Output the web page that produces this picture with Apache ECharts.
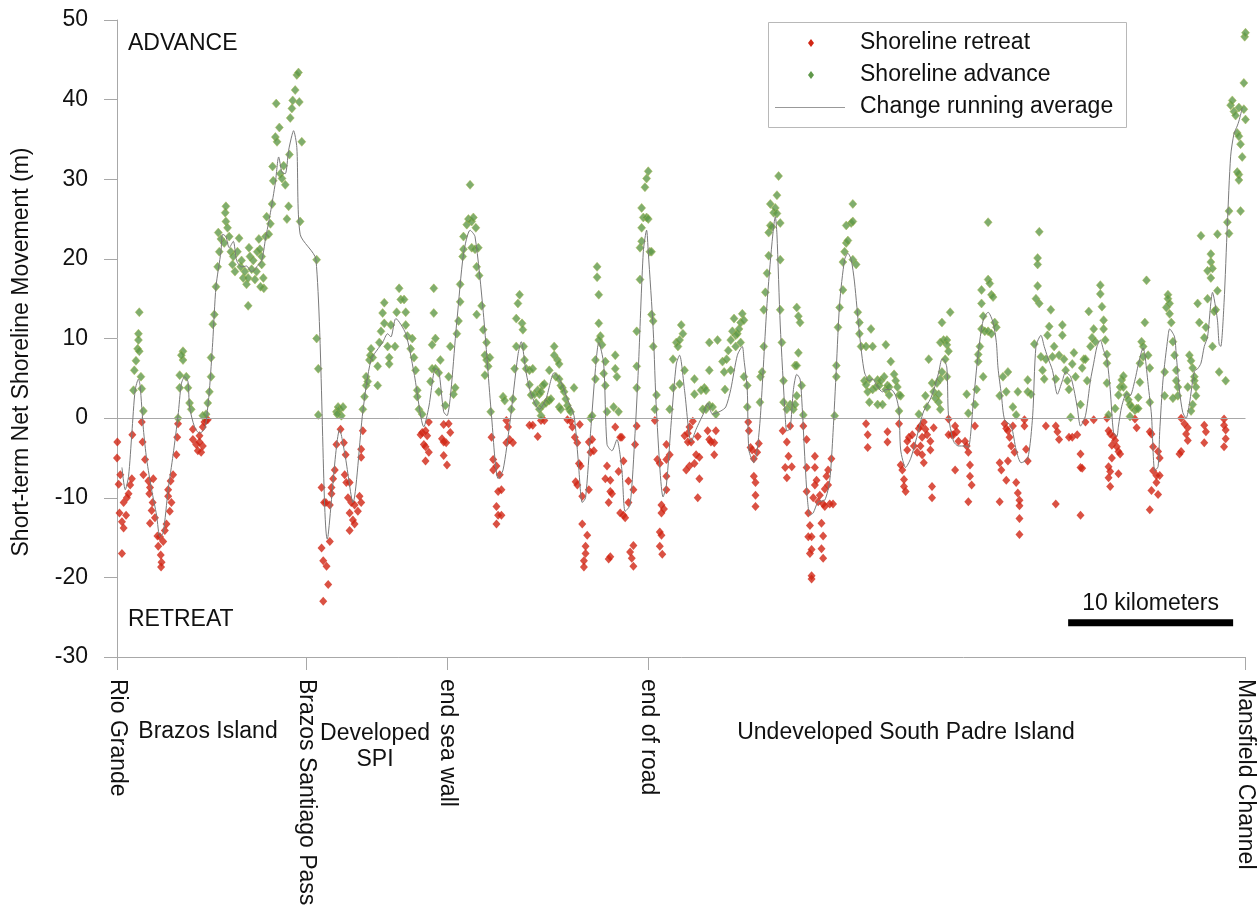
<!DOCTYPE html>
<html>
<head>
<meta charset="utf-8">
<script src="https://cdn.jsdelivr.net/npm/echarts@6/dist/echarts.min.js"></script>
<style>
html,body{margin:0;padding:0;background:#fff;}
#chart{width:1257px;height:909px;}
</style>
</head>
<body>
<div id="chart"></div>
<script>
// ---- DATA (x = distance along shore in km from Rio Grande, y = net shoreline movement in m) ----
const landmarkKm = [0, 11.45, 20.0, 32.2, 68.4];
const landmarkNames = ["Rio Grande", "Brazos Santiago Pass", "end sea wall", "end of road", "Mansfield Channel"];
const yTicks = [-30, -20, -10, 0, 10, 20, 30, 40, 50];

const retreat = [
[0.02,-3.0],[0,-5.0],[0.2,-7.1],[0.1,-8.3],[0.4,-10.6],[0.15,-11.9],[0.3,-13.0],[0.4,-13.8],[0.3,-17.0],[0.55,-12.2],[0.7,-9.5],[0.8,-8.4],[0.9,-7.6],[0.93,-2.1],[0.6,-10.0],[1.5,-0.5],[1.55,-3.0],[1.7,-5.2],[1.6,-7.1],[1.9,-7.9],[2.0,-8.7],[2.2,-7.6],[1.96,-9.5],[2.16,-10.6],[2.1,-11.6],[2.3,-12.5],[2.0,-13.2],[2.45,-14.8],[2.6,-14.9],[2.5,-16.1],[2.65,-17.2],[2.7,-18.1],[2.67,-18.7],[2.9,-14.1],[3.0,-13.3],[3.2,-11.7],[3.1,-9.0],[3.25,-7.9],[3.1,-9.8],[3.4,-7.1],[3.6,-4.6],[3.65,-2.4],[3.7,-0.7],[3.3,-10.6],[2.8,-15.5],[4.6,-1.4],[4.6,-2.7],[4.8,-3.3],[4.9,-4.1],[5.0,-3.0],[5.1,-4.3],[5.2,-3.5],[5.3,-0.5],[5.4,-0.3],[5.5,-0.2],[5.0,-2.2],[5.2,-1.1],
[12.4,-8.7],[12.55,-10.6],[12.66,-10.6],[12.9,-10.9],[13.0,-9.5],[13.0,-8.7],[13.1,-7.6],[13.2,-6.5],[13.3,-3.3],[13.55,-1.4],[13.75,-3.1],[13.86,-4.6],[13.8,-7.1],[13.9,-8.1],[14.1,-8.1],[14.0,-10.0],[14.2,-10.6],[14.4,-10.9],[14.1,-11.9],[14.3,-12.8],[14.4,-13.3],[14.1,-14.1],[14.6,-11.7],[14.7,-9.8],[14.8,-10.6],[14.8,-4.9],[14.8,-3.9],[14.9,-1.6],[12.4,-16.3],[12.5,-17.9],[12.7,-18.6],[12.8,-20.9],[12.5,-23.0],[12.9,-15.5],[18.4,-2.1],[18.5,-1.8],[18.7,-1.6],[18.8,-2.2],[18.9,-0.5],[18.6,-3.3],[18.7,-3.6],[18.9,-4.3],[18.7,-5.4],[19.8,-0.8],[20.1,-0.7],[20.2,-1.8],[19.7,-2.6],[19.8,-3.0],[19.95,-3.1],[19.8,-4.7],[20.0,-5.9],[22.7,-2.4],[22.8,-5.2],[22.8,-6.5],[23.0,-6.0],[23.2,-7.1],[23.1,-9.2],[23.3,-9.0],[23.0,-11.1],[23.1,-12.2],[23.3,-12.2],[23.0,-13.3],[23.6,-0.3],[23.7,-1.1],[23.6,-3.1],[23.8,-2.7],[24.0,-3.1],
[25.0,-0.9],[25.2,-0.9],[25.5,-2.3],[25.7,-0.3],[25.9,-0.3],[27.3,-0.2],[27.5,-0.4],[27.6,-1.1],[27.75,-2.4],[27.9,-3.1],[28.05,-0.8],[28.0,-5.7],[28.1,-6.0],[27.8,-8.0],[27.9,-8.4],[28.2,-9.8],[28.2,-13.3],[28.5,-14.7],[28.4,-16.1],[28.4,-17.0],[28.3,-17.9],[28.3,-18.7],[28.6,-9.0],[28.6,-3.0],[28.8,-2.7],[28.7,-4.3],[28.9,-4.1],[29.7,-6.0],[29.6,-7.6],[29.9,-7.8],[29.9,-9.2],[30.0,-9.5],[29.8,-10.6],[29.9,-17.4],[29.8,-17.7],[30.2,-1.1],[30.5,-2.4],[30.6,-2.4],[30.4,-6.7],[30.7,-5.4],[31.0,-7.9],[30.5,-11.9],[30.7,-12.2],[30.8,-12.5],[31.0,-10.6],[31.3,-16.0],[31.1,-16.8],[31.2,-17.6],[31.3,-18.6],[31.3,-9.0],[31.4,-3.3],[31.5,-1.0],[32.6,-0.3],[32.75,-5.2],[32.9,-5.7],[33.3,-5.2],[33.5,-4.6],[33.3,-3.3],[33.3,-7.3],[33.3,-9.0],[33.0,-10.9],[33.15,-11.4],[33.0,-11.9],[32.9,-14.3],[33.0,-14.7],[32.9,-16.1],[33.05,-17.1],[34.4,-2.2],[34.6,-1.9],[34.7,-1.1],[34.9,-0.4],[34.8,-3.0],[34.6,-3.0],[34.5,-6.5],[34.7,-6.0],[35.1,-4.6],[35.3,-4.9],[35.0,-5.7],[35.3,-7.6],[35.2,-10.0],[35.2,-2.3],[35.8,-1.6],[35.9,-2.7],[36.0,-3.0],[36.2,-3.1],[36.3,-1.6],[36.2,-4.6],
[38.26,-0.5],[38.3,-1.6],[38.4,-3.7],[38.5,-4.0],[38.6,-5.1],[38.8,-4.3],[38.9,-3.2],[38.6,-7.3],[38.7,-8.1],[38.7,-9.7],[38.7,-11.1],
[40.35,-1.6],[40.6,-3.0],[40.7,-4.8],[40.5,-6.2],[40.6,-7.5],[40.9,-6.1],[40.8,-1.0],[41.6,-1.0],[41.8,-2.7],[41.8,-6.2],[41.8,-9.2],[41.9,-11.9],[42.0,-13.5],[41.9,-14.9],[42.1,-14.9],[42.1,-16.5],[42.0,-17.0],[42.1,-19.8],[42.1,-20.2],[42.3,-4.8],[42.3,-6.2],[42.4,-7.8],[42.3,-8.4],[42.2,-10.0],[42.5,-10.5],[42.6,-9.7],[42.8,-10.8],[42.9,-11.1],[42.9,-8.9],[43.0,-7.3],[43.1,-6.5],[43.2,-10.8],[43.3,-5.1],[43.1,-8.4],[42.7,-13.2],[42.8,-14.8],[42.7,-16.4],[42.8,-17.6],[43.4,-10.8],[45.4,-0.7],[45.5,-2.1],[45.5,-3.7],[46.7,-1.7],[46.7,-3.0],[47.4,-0.7],[47.5,-5.9],[47.6,-6.5],[47.7,-7.7],[47.7,-8.6],[47.8,-9.2],[47.9,-2.9],[48.0,-2.4],[48.2,-2.1],[48.3,-3.5],[47.9,-4.0],[48.5,-4.3],[48.6,-1.3],
[48.7,-1.0],[48.9,-0.5],[49.0,-1.4],[49.1,-2.1],[48.8,-2.4],[48.7,-3.5],[48.8,-4.6],[48.9,-5.6],[49.4,-8.6],[49.4,-10.0],[49.3,-4.0],[49.5,-1.2],[49.3,-2.9],[50.4,-0.1],[50.4,-2.1],[50.6,-2.1],[50.7,-2.1],[50.8,-1.0],[50.9,-1.7],[51.0,-2.9],[50.8,-6.5],[51.4,-2.9],[51.5,-3.5],[51.6,-4.3],[51.7,-5.9],[51.7,-7.3],[51.8,-8.4],[51.6,-10.5],[52.0,-1.0],[53.5,-5.6],[53.6,-6.5],[53.5,-10.5],[54.0,-5.4],[53.9,-7.8],[53.8,-0.7],[53.9,-1.3],[54.0,-1.6],[54.1,-2.4],[54.2,-3.5],[54.3,-1.0],[54.4,-4.3],[54.5,-8.1],[54.6,-9.4],[54.7,-10.3],[54.7,-11.0],[54.7,-12.6],[54.7,-14.6],[55.0,-0.2],[55.0,-1.0],[55.2,-5.4],[55.1,-3.9],[56.3,-1.0],[56.9,-1.0],[57.0,-1.7],[57.1,-2.7],[56.9,-10.8],[57.7,-2.4],[57.9,-2.4],[58.2,-2.1],[58.4,-4.5],[58.4,-6.2],[58.5,-6.3],[58.4,-12.2],[58.7,-0.5],[59.2,-0.2],
[60.0,0],[60.1,-1.6],[60.2,-2.0],[60.4,-2.3],[60.3,-3.4],[60.5,-2.8],[60.6,-3.6],[60.7,-4.2],[60.8,-4.5],[60.3,-5.0],[60.1,-6.1],[60.2,-6.7],[60.1,-7.5],[60.2,-8.6],[60.7,-7.0],[61.7,-0.1],[61.8,-1.2],[62.6,-1.7],[62.7,-2.0],[62.8,-3.6],[63.1,-4.2],[63.2,-5.0],[62.8,-6.6],[63.0,-7.2],[63.2,-7.2],[63.0,-8.1],[62.7,-9.1],[63.1,-9.6],[62.6,-11.5],[64.5,0],[64.7,-0.7],[64.9,-1.2],[64.8,-2.0],[64.9,-2.8],[64.5,-4.2],[64.4,-4.5],[65.9,-0.9],[66.0,-1.7],[65.9,-3.1],[67.1,-0.1],[67.1,-0.9],[67.2,-1.5],[67.2,-2.6],[67.1,-3.6]
];

const advance = [
[1.35,13.3],[1.3,10.6],[1.3,9.8],[1.25,8.7],[1.15,7.2],[1.05,6.0],[1.0,3.5],[1.45,5.2],[1.5,3.7],[1.6,0.9],[1.35,8.4],[4.0,8.4],[4.0,7.3],[3.9,7.9],[3.8,5.4],[3.8,3.8],[4.2,5.2],[4.3,3.8],[4.4,1.9],[4.5,1.1],[3.7,0],[5.2,0.3],[5.4,0.5],[5.5,1.9],[5.6,3.3],[5.7,5.2],[5.7,7.6],[5.8,11.8],[5.9,13.0],[6.0,16.5],[6.1,19.0],[6.2,20.9],[6.14,23.3],[6.3,22.5],[6.5,22.0],[6.6,24.7],[6.56,25.8],[6.6,26.6],[6.7,23.9],[6.8,22.8],[6.9,20.9],[7.0,19.3],[7.05,20.3],[7.15,18.4],[7.3,20.9],[7.4,22.6],[7.5,19.0],[7.55,19.8],[7.65,17.6],[7.75,18.4],[7.85,16.8],[7.95,14.1],[7.95,17.6],[8.0,21.4],[8.06,20.3],[8.16,18.7],[8.26,19.8],[8.36,17.4],[8.46,18.4],[8.5,20.9],[8.6,22.5],[8.66,21.2],[8.77,19.3],[8.87,17.6],[8.9,16.3],[8.7,16.5],[8.77,20.3],[9.0,22.8],[9.07,25.3],[9.2,23.1],[9.3,24.4],[9.4,26.9],[9.43,31.6],[9.47,29.8],[9.65,39.5],[9.6,35.3],[9.7,34.7],[9.84,36.5],[9.9,30.7],[10.0,30.1],[10.1,31.7],[10.2,29.3],[10.3,25.0],[10.4,26.6],[10.45,33.1],[10.5,37.7],[10.6,38.9],[10.65,39.9],[10.8,41.2],[10.9,43.1],[11.0,43.4],[11.05,39.7],[11.2,34.7],[11.1,24.7],[12.1,19.9],[12.1,10.0],[12.2,6.2],[12.2,0.4],
[13.3,0.8],[13.4,1.4],[13.5,1.1],[13.7,1.4],[13.6,0.3],[13.35,0.5],[14.9,1.1],[15.0,2.7],[15.1,4.1],[15.1,5.2],[15.2,4.6],[15.3,7.3],[15.35,7.9],[15.4,8.7],[15.5,7.6],[15.8,4.1],[15.8,6.5],[15.9,9.5],[16.0,10.9],[16.1,13.2],[16.2,14.5],[16.2,11.9],[16.4,9.0],[16.5,7.6],[16.5,6.8],[16.6,11.7],[16.85,9.0],[16.95,13.3],[17.1,16.3],[17.2,14.9],[17.4,14.9],[17.5,13.3],[17.5,11.7],[17.6,10.3],[17.8,8.7],[17.9,10.0],[18.0,7.6],[18.1,6.0],[18.2,3.5],[18.2,2.7],[18.3,1.1],[18.5,0.5],[19.0,4.6],[19.1,6.2],[19.2,16.3],[19.2,13.2],[19.3,10.0],[19.1,9.2],[19.3,6.2],[19.5,5.7],[19.6,7.3],[19.5,3.3],[19.9,1.6],[20.1,5.2],[20.2,9.0],[20.4,3.0],[20.5,3.8],[20.6,10.6],[20.7,12.2],[20.8,14.6],[20.8,16.8],[20.95,20.3],[21.0,21.2],[21.0,22.8],[21.2,24.3],[21.3,25.0],[21.4,29.3],[21.5,24.7],[21.6,25.2],[21.5,21.4],[21.7,21.2],[21.75,23.9],[21.9,21.4],[21.8,19.0],[21.95,17.9],[22.1,14.1],[21.8,13.0],[22.2,11.1],[22.3,7.9],[22.4,7.3],[22.5,6.5],[22.6,7.6],[22.3,5.4],[22.4,9.5],[22.65,0.8],[23.4,2.7],[23.5,2.2],[23.9,1.1],[24.0,2.4],[24.1,6.2],[24.2,9.0],[24.2,12.5],[24.3,14.4],[24.4,15.5],
[24.55,11.9],[24.6,11.1],[24.65,9.0],[24.7,7.3],[24.8,6.2],[25.0,6.0],[25.2,6.2],[25.0,4.2],[25.1,2.9],[25.3,3.0],[25.4,1.9],[25.5,3.5],[25.6,3.0],[25.7,3.3],[25.8,4.1],[25.9,4.3],[25.7,0.3],[25.6,1.1],[25.8,1.6],[26.0,1.9],[26.1,2.2],[26.2,2.2],[26.3,2.4],[26.2,6.0],[26.5,9.0],[26.5,7.9],[26.7,7.3],[26.8,6.8],[26.6,5.2],[26.8,4.9],[26.9,4.1],[27.0,3.8],[27.1,3.3],[27.2,2.4],[27.3,1.6],[27.4,1.1],[27.5,0.8],[27.7,3.8],[26.8,1.4],[26.9,1.1],[28.7,0],[28.8,0.3],[29.0,7.3],[29.0,4.9],[29.1,19.0],[29.1,17.7],[29.2,15.5],[29.2,11.9],[29.3,10.3],[29.2,9.8],[29.4,9.2],[29.6,7.1],[29.5,5.6],[29.6,4.1],[29.7,0.8],[30.2,7.9],[30.2,6.2],[30.3,5.2],[30.1,1.4],[30.4,0.8],[31.5,3.8],[31.5,6.5],[31.5,10.9],[31.7,17.4],[31.7,21.4],[31.8,22.2],[31.8,23.9],[31.9,25.2],[31.8,26.4],[32.0,29.0],[32.1,30.1],[32.2,31.0],[32.1,25.2],[32.2,25.0],[32.3,20.9],[32.4,20.9],[32.4,13.0],[32.5,12.2],[32.5,9.0],[32.6,1.1],[32.7,2.9],[33.5,1.1],[33.7,3.8],[33.7,7.4],[33.9,9.5],[34.0,9.0],[34.1,9.8],[34.2,11.7],[34.3,10.6],[34.1,4.3],[34.4,6.0],[35.0,4.9],[35.0,3.0],[35.4,3.5],[35.6,3.8],[35.7,3.5],[35.9,6.0],[35.9,9.5],[35.5,1.1],[35.7,1.1],[35.9,1.6],[36.1,1.4],[36.3,0.5],[36.4,9.8],
[36.7,7.1],[36.8,5.8],[36.85,3.6],[36.95,7.4],[37.05,8.5],[37.2,9.8],[37.3,10.9],[37.4,12.5],[37.5,10.4],[37.6,10.6],[37.7,11.2],[37.8,12.0],[37.9,13.1],[38.0,12.3],[37.8,9.5],[38.0,5.2],[38.2,4.1],[38.2,1.4],[37.5,9.0],[37.2,6.0],[38.97,2.0],[39.0,5.2],[39.1,5.8],[39.2,9.0],[39.2,13.6],[39.3,15.8],[39.4,18.2],[39.5,20.4],[39.6,24.2],[39.7,24.0],[39.5,23.3],[39.6,26.9],[39.8,25.8],[39.9,26.4],[40.0,28.0],[40.1,30.4],[40.0,25.7],[40.2,24.5],[40.2,19.9],[40.2,13.6],[40.3,9.5],[40.4,4.7],[40.4,2.0],[40.6,1.1],[40.8,1.7],[41.0,1.1],[41.1,1.7],[41.2,2.8],[41.1,6.6],[41.3,8.2],[41.2,6.6],[41.2,13.9],[41.3,12.8],[41.4,12.0],[41.5,4.1],[41.6,0.4],[43.5,0.3],[43.6,5.2],[43.6,6.6],[43.7,11.4],[43.8,13.9],[44.0,16.1],[44.0,19.6],[44.1,20.9],[44.2,22.0],[44.3,22.3],[44.2,24.2],[44.5,24.5],[44.6,26.9],[44.6,24.7],[44.6,19.9],[44.8,19.3],[44.9,13.3],[45.0,12.0],[45.0,10.6],[45.1,9.0],[45.4,9.0],[45.3,4.7],[45.4,4.2],[45.6,4.9],[45.7,11.2],[45.8,9.0],[45.5,3.3],[45.6,2.0],[45.8,3.6],[46.0,3.9],[46.1,4.8],[46.2,4.1],[46.3,4.7],[46.5,5.2],[46.1,1.7],[46.4,1.7],[46.6,3.6],[46.6,9.2],[46.7,4.1],[46.8,2.9],[46.8,3.9],[46.9,7.1],[47.1,5.5],[47.2,4.7],[47.3,3.9],[47.4,2.9],[47.4,0.9],[47.5,2.8],
[49.2,7.4],[49.0,2.8],[49.1,1.4],[49.4,4.4],[49.5,3.3],[49.6,2.5],[49.7,4.4],[49.8,3.0],[49.8,2.0],[49.9,1.1],[49.9,4.9],[50.0,5.8],[49.9,9.5],[50.0,12.0],[50.1,9.8],[50.3,9.8],[50.3,9.2],[50.4,8.4],[50.5,13.3],[50.2,7.4],[50.3,5.2],[48.6,0.5],[51.5,3.0],[51.6,0.6],[52.0,1.7],[52.1,3.6],[52.2,7.1],[52.2,8.0],[52.3,9.0],[52.4,11.2],[52.4,14.4],[52.4,16.1],[52.5,12.8],[52.6,10.9],[52.8,10.9],[52.8,17.4],[52.9,16.9],[53.0,15.5],[53.1,15.2],[53.0,10.6],[53.2,12.0],[53.3,11.4],[52.8,24.6],[52.5,5.2],[53.5,2.8],[53.7,5.2],[53.9,3.3],[54.0,5.8],[54.3,1.4],[54.5,0.4],[54.6,3.3],[55.2,3.3],[55.2,4.8],[55.4,3.0],[55.6,9.3],[55.7,15.0],[55.8,16.6],[55.8,19.3],[55.8,20.1],[55.9,23.4],[55.9,14.4],[56.0,7.7],[56.1,6.0],[56.2,4.9],[56.3,7.4],[56.4,10.4],[56.5,11.5],[56.6,13.6],[56.7,7.7],[56.8,9.0],[56.9,4.9],[57.1,7.9],[57.3,10.4],[57.3,11.7],[57.4,7.4],[57.5,6.0],[57.6,4.7],[57.7,3.6],[57.8,0.1],[57.9,6.8],[58.0,8.2],[58.1,5.2],[58.4,1.7],[58.5,6.3],[58.6,7.4],[58.7,7.4],[58.8,4.7],[58.9,13.4],[59.0,9.0],[59.1,10.1],[59.2,11.2],[59.3,9.6],
[59.6,16.7],[59.6,15.6],[59.7,14.0],[59.8,12.3],[59.8,11.2],[59.9,9.8],[60.0,8.0],[60.0,6.9],[60.0,4.4],[60.1,0.4],[60.5,1.2],[60.7,2.9],[60.8,3.9],[60.9,4.8],[61.0,5.3],[61.0,3.9],[61.2,2.9],[61.3,2.3],[61.4,1.7],[61.5,1.4],[61.7,1.0],[61.8,1.2],[61.9,1.2],[61.4,0.2],[61.9,2.6],[62.0,4.5],[62.0,6.9],[62.1,9.6],[62.2,9.0],[62.2,7.7],[62.3,12.0],[62.4,17.3],[62.5,7.9],[62.6,6.3],[62.6,2.0],[63.5,2.8],[63.5,5.8],[63.6,13.9],[63.7,15.5],[63.7,15.0],[63.8,14.4],[63.8,13.1],[63.9,12.0],[64.0,9.6],[64.1,7.9],[64.2,6.0],[64.2,4.7],[64.3,3.9],[64.3,2.8],[64.0,2.5],[64.9,3.9],[65.0,7.9],[65.1,7.2],[65.2,6.3],[65.3,5.2],[65.3,4.7],[65.4,3.9],[65.4,2.8],[65.2,1.7],[65.1,0.9],[65.5,14.4],[65.6,12.0],[65.7,22.9],[65.9,10.1],[66.0,11.4],[66.1,15.0],[66.1,18.5],[66.3,19.6],[66.3,20.6],[66.4,18.8],[66.3,17.6],[66.4,9.0],[66.5,13.4],[66.6,13.6],[66.7,16.0],[66.7,23.1],[66.8,5.8],[67.2,4.7],[67.4,23.2],[67.3,24.6],[67.4,26.0],[67.5,39.3],[67.6,39.9],[67.7,38.5],[67.8,38.0],[67.9,35.8],[68.0,39.0],[68.0,35.4],[68.1,34.4],[68.2,32.8],[68.0,30.6],[67.9,30.9],[68.0,29.9],[68.1,26.0],[68.3,42.1],[68.3,38.8],[68.4,37.5],[68.35,47.9],[68.4,48.4]
];

const runningAvg = [
[0.3,-6.2],[0.5,-9.0],[0.7,-7.3],[0.9,-1.9],[1.1,3.5],[1.3,4.9],[1.4,4.1],[1.6,-1.4],[1.8,-5.2],[2.1,-9.0],[2.4,-12.2],[2.6,-14.9],[2.8,-14.4],[3.1,-9.0],[3.4,-4.6],[3.7,0.3],[3.9,4.3],[4.1,5.2],[4.3,4.6],[4.4,1.4],[4.7,-1.1],[5.0,-1.9],[5.3,-1.4],[5.4,-0.5],[5.6,3.5],[5.8,9.5],[6.0,16.5],[6.3,20.9],[6.4,23.1],[6.6,22.8],[6.8,21.4],[7.05,22.2],[7.25,19.8],[7.55,19.0],[7.85,19.1],[8.16,18.4],[8.46,19.0],[8.77,19.8],[9.0,22.5],[9.3,25.8],[9.6,29.6],[9.8,32.8],[10.0,30.9],[10.2,30.7],[10.4,33.6],[10.6,35.5],[10.7,36.1],[10.9,34.0],[11.1,23.1],[12.06,19.9],
[12.75,-15.2],[13.5,-1.4],[13.85,-5.0],[14.3,-10.6],[14.9,0.8],[15.4,7.3],[16.1,9.5],[16.4,10.6],[16.6,10.2],[16.9,12.5],[17.5,10.6],[18.0,5.7],[18.6,-1.1],[18.9,1.4],[19.3,6.2],[19.5,6.0],[19.8,0.8],[20.0,0.3],[20.6,12.2],[21.0,20.6],[21.4,23.6],[21.7,22.8],[22.2,13.3],[22.7,0.3],[23.1,-7.6],[23.4,-6.5],[23.8,-0.8],[24.3,7.9],
[24.5,9.6],[24.8,5.7],[25.1,3.0],[25.6,1.1],[26.0,2.4],[26.5,5.7],[26.9,4.6],[27.3,2.4],[27.7,0.3],[27.95,-5.2],[28.2,-10.6],[28.4,-10.0],[28.7,-1.9],[29.0,6.2],[29.2,9.5],[29.5,6.8],[29.7,-3.3],[30.0,-4.1],[30.3,-2.7],[30.6,-6.5],[30.8,-11.7],[31.1,-10.9],[31.4,-1.9],[31.6,6.2],[31.9,20.9],[32.1,23.6],[32.2,20.9],[32.5,11.1],[32.7,0.8],[33.1,-9.9],[33.3,-8.4],[33.6,-0.3],[33.9,6.8],[34.1,7.9],[34.4,3.5],[34.8,-3.0],[35.1,-1.4],[35.3,-0.5],[35.6,0.8],[35.8,1.9],[36.1,0.5],
[36.6,0.9],[36.9,1.4],[37.2,3.6],[37.6,7.9],[37.9,9.0],[38.0,7.4],[38.2,3.6],[38.3,-4.0],[38.6,-5.6],[38.8,-4.0],[39.0,0.3],[39.4,14.4],[39.7,22.0],[39.9,25.3],[40.0,23.1],[40.2,11.7],[40.5,0.3],[40.6,-1.6],[40.8,-1.3],[41.0,3.6],[41.2,5.5],[41.4,4.9],[41.5,2.5],[41.8,-8.9],[42.0,-12.2],[42.2,-11.9],[42.5,-10.5],[42.9,-10.3],[43.2,-7.8],[43.4,-1.8],[43.6,6.3],[43.8,14.4],[44.1,19.9],[44.3,20.7],[44.5,19.9],[44.7,17.1],[45.0,10.6],[45.3,5.8],[45.6,4.7],[45.8,4.9],[46.1,3.9],[46.4,3.3],[46.6,3.6],[46.9,3.6],[47.2,2.8],[47.4,0.9],[47.5,-4.0],[47.8,-6.2],[48.1,-5.1],[48.4,-3.0],[48.7,-0.5],
[48.9,0.9],[49.3,2.4],[49.5,3.5],[49.8,5.7],[50.0,7.4],[50.1,7.4],[50.3,6.3],[50.4,0.3],[50.7,-2.9],[51.0,-3.5],[51.4,-3.5],[51.6,-3.7],[51.9,1.9],[52.2,8.2],[52.5,12.3],[52.8,13.3],[53.1,12.0],[53.3,9.5],[53.4,6.3],[53.6,3.0],[53.8,-0.2],[54.2,-1.0],[54.5,-4.0],[54.8,-5.6],[55.2,-5.1],[55.5,0.3],[55.7,9.0],[56.0,10.4],[56.2,9.0],[56.4,7.7],[56.7,6.0],[57.0,3.0],[57.3,4.7],[57.5,5.8],[57.8,5.2],[58.0,3.6],[58.2,1.4],[58.4,-1.0],[58.7,0.3],[59.0,4.7],[59.2,6.9],[59.4,9.0],
[59.6,9.8],[59.8,8.5],[60.0,7.4],[60.2,3.6],[60.4,-1.8],[60.6,-2.3],[60.7,-1.0],[60.9,1.5],[61.2,3.1],[61.4,2.8],[61.7,4.8],[61.9,6.7],[62.2,8.8],[62.3,8.0],[62.5,4.2],[62.7,0.4],[62.9,-6.6],[63.1,-6.1],[63.2,-1.7],[63.4,4.8],[63.7,10.2],[63.8,11.2],[64.1,10.2],[64.2,8.0],[64.4,3.4],[64.6,0.7],[64.8,0],[65.0,1.8],[65.3,5.9],[65.5,6.2],[65.7,6.9],[65.9,9.0],[66.1,10.2],[66.3,14.5],[66.4,15.8],[66.5,15.0],[66.7,12.3],[66.8,9.3],[66.9,9.0],[67.1,14.5],[67.3,24.3],[67.5,32.9],[67.7,35.7],[67.9,36.7],[68.0,37.3],[68.2,38.9]
];

const scaleBarKm = [57.65, 67.65];
const scaleBarLevel = -25.7;
const scaleBarText = "10 kilometers";

// ---- CHART ----
const FONT = "'Liberation Sans', Arial, Helvetica, sans-serif";
const RED = '#d12614';
const GREEN = '#5f984a';
const chart = echarts.init(document.getElementById('chart'), null, {renderer: 'canvas'});

const option = {
  animation: false,
  backgroundColor: '#ffffff',
  textStyle: {fontFamily: FONT},
  grid: {left: 117, right: 11, top: 20, bottom: 252, containLabel: false},
  xAxis: {
    type: 'value', min: 0, max: 68.4,
    splitLine: {show: false},
    axisLine: {show: true, onZero: false, lineStyle: {color: '#a8a8a8', width: 1}},
    axisTick: {show: true, length: 13, customValues: landmarkKm, lineStyle: {color: '#a8a8a8'}},
    axisLabel: {
      show: true, customValues: landmarkKm, rotate: -90, margin: 22,
      fontSize: 23, color: '#111', fontFamily: FONT,
      formatter: function (v) {
        let best = 0, d = Infinity;
        landmarkKm.forEach(function (k, i) { if (Math.abs(k - v) < d) { d = Math.abs(k - v); best = i; } });
        return landmarkNames[best];
      }
    }
  },
  yAxis: {
    type: 'value', min: -30, max: 50, interval: 10,
    splitLine: {show: false},
    axisLine: {show: true, lineStyle: {color: '#a8a8a8', width: 1}},
    axisTick: {show: true, length: 13, lineStyle: {color: '#a8a8a8'}},
    axisLabel: {fontSize: 23, color: '#111', margin: 29, fontFamily: FONT}
  },
  series: [
    {
      name: 'Shoreline retreat', type: 'scatter', data: retreat,
      symbol: 'diamond', symbolSize: [8, 9],
      itemStyle: {color: RED}
    },
    {
      name: 'Shoreline advance', type: 'scatter', data: advance,
      symbol: 'diamond', symbolSize: [8, 9],
      itemStyle: {color: GREEN, borderColor: '#a9b84c', borderWidth: 0.6}
    },
    {
      name: 'Change running average', type: 'line', data: runningAvg,
      showSymbol: false, symbol: 'none', smooth: 0.25,
      lineStyle: {color: '#7a7a7a', width: 1},
      z: 5,
      markLine: {
        silent: true, symbol: 'none', label: {show: false},
        lineStyle: {color: '#a8a8a8', width: 1, type: 'solid'},
        data: [{yAxis: 0}]
      }
    },
    {
      name: 'scale', type: 'line',
      data: scaleBarKm.map(function (k) { return [k, scaleBarLevel]; }),
      showSymbol: false, symbol: 'none',
      lineStyle: {color: '#000', width: 7, cap: 'butt'}
    }
  ]
};
chart.setOption(option);

// text annotations positioned through the chart's own coordinate conversion
function px(km, v) { return chart.convertToPixel({gridIndex: 0}, [km, v]); }
const barMid = px((scaleBarKm[0] + scaleBarKm[1]) / 2, scaleBarLevel);
const gAdv = px(0, 50);
const gRet = px(0, -30);

function txt(x, y, s, align, extra) {
  const st = {text: s, font: '23px ' + FONT, fill: '#111', align: align || 'left', verticalAlign: 'middle'};
  if (extra) Object.assign(st, extra);
  return {type: 'text', x: x, y: y, z: 11, style: st};
}
function diamond(cx, cy, color) {
  return {type: 'polygon', z: 11, shape: {points: [[cx, cy - 4], [cx + 3, cy], [cx, cy + 4], [cx - 3, cy]]}, style: {fill: color}};
}

const graphics = [
  {type: 'text', x: 22, y: 352, rotation: Math.PI / 2,
   style: {text: 'Short-term Net Shoreline Movement (m)', font: '23px ' + FONT, fill: '#111', align: 'center', verticalAlign: 'middle'}},
  txt(gAdv[0] + 11, 44, 'ADVANCE'),
  txt(gRet[0] + 11, 620, 'RETREAT'),
  txt(barMid[0], barMid[1] - 19, scaleBarText, 'center'),
  txt(208, 732, 'Brazos Island', 'center'),
  txt(375, 747, 'Developed\nSPI', 'center', {lineHeight: 26}),
  txt(906, 733, 'Undeveloped South Padre Island', 'center'),
  // legend
  {type: 'rect', z: 10, shape: {x: 768.5, y: 22.5, width: 358, height: 105},
   style: {fill: '#fff', stroke: '#b8b8b8', lineWidth: 1}},
  diamond(811, 43, RED),
  diamond(811, 75, GREEN),
  {type: 'line', z: 11, shape: {x1: 775, y1: 107.5, x2: 845, y2: 107.5}, style: {stroke: '#999', lineWidth: 1}},
  txt(860, 43, 'Shoreline retreat'),
  txt(860, 75, 'Shoreline advance'),
  txt(860, 107, 'Change running average')
];
chart.setOption({graphic: graphics});
</script>
</body>
</html>
